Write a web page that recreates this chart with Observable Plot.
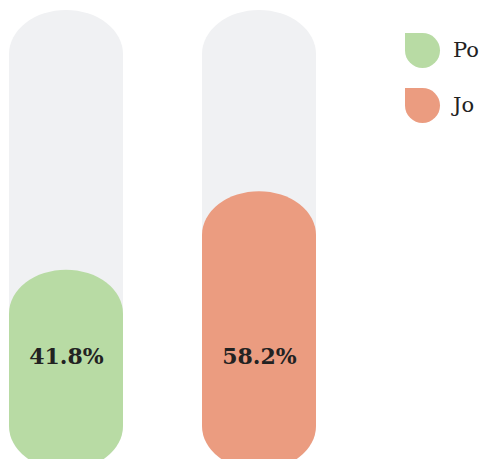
<!DOCTYPE html>
<html><head><meta charset="utf-8">
<script src="https://cdn.jsdelivr.net/npm/d3@7"></script>
<script src="https://cdn.jsdelivr.net/npm/@observablehq/plot@0.6"></script>
<style>
html,body{margin:0;padding:0;background:#fff;overflow:hidden;}
#wrap{position:relative;width:481px;height:459px;overflow:hidden;}
#wrap svg{display:block;}
.legend{position:absolute;left:405px;top:33px;}
.item{display:flex;align-items:center;height:35px;margin-bottom:20px;}
.sw{width:35px;height:35px;border-radius:0 50% 50% 50%;margin-right:13px;flex:none;}
.lab{font-family:"DejaVu Serif",serif;font-size:21px;color:#222;line-height:35px;white-space:nowrap;}
</style></head><body><div id="wrap"></div>
<script>
const categories = ["Po", "Jo"];
const values = [41.8, 58.2];
const labels = ["41.8%", "58.2%"];
const colors = ["#b8dba4", "#eb9c80"];
const trackColor = "#f0f1f3";
const trackMax = 96;

const data = categories.map((c, i) => ({cat: c, value: values[i], label: labels[i], track: trackMax}));

const chart = Plot.plot({
  width: 481, height: 470,
  marginTop: 10, marginBottom: 0, marginLeft: 9, marginRight: 165,
  x: {domain: categories, paddingInner: 0.41, paddingOuter: 0, axis: null},
  y: {domain: [0, trackMax], axis: null},
  color: {domain: categories, range: colors},
  marks: [
    Plot.barY(data, {x: "cat", y: "track", fill: trackColor, rx: 57, ry: 44}),
    Plot.barY(data, {x: "cat", y: "value", fill: "cat", rx: 57, ry: 44}),
    Plot.text(data, {x: "cat", text: "label", frameAnchor: "bottom", dy: -107,
      fontFamily: "DejaVu Serif", fontWeight: "bold", fontSize: 22, fill: "#222"})
  ]
});
const wrap = document.getElementById("wrap");
wrap.appendChild(chart);

const legend = document.createElement("div");
legend.className = "legend";
categories.forEach((c, i) => {
  const item = document.createElement("div");
  item.className = "item";
  const sw = document.createElement("div");
  sw.className = "sw";
  sw.style.background = colors[i];
  const lab = document.createElement("span");
  lab.className = "lab";
  lab.textContent = c;
  item.appendChild(sw);
  item.appendChild(lab);
  legend.appendChild(item);
});
wrap.appendChild(legend);
</script>
</body></html>
